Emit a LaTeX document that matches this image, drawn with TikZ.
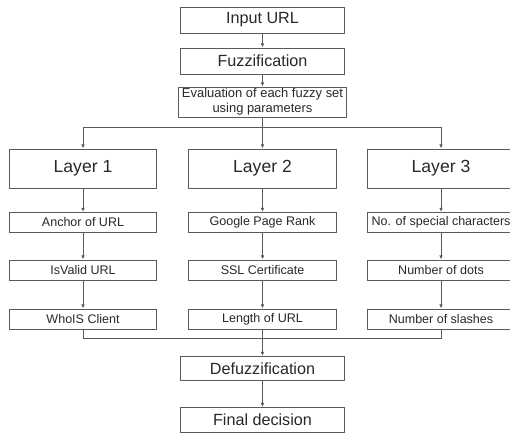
\documentclass[tikz,border=0pt]{standalone}
\usepackage{fontspec}
\setmainfont{Liberation Sans}
\usetikzlibrary{arrows.meta}
\definecolor{boxline}{RGB}{90,90,90}
\definecolor{boxtext}{RGB}{40,40,40}
\tikzset{
  mainbox/.style={draw=boxline,line width=0.7pt,inner sep=0pt,align=center,
    text=boxtext,minimum width=4.075cm,minimum height=0.65cm,font=\fontsize{11.5}{13}\selectfont},
  layerbox/.style={mainbox,minimum width=3.675cm,minimum height=0.975cm,font=\fontsize{12.5}{14}\selectfont},
  itembox/.style={mainbox,minimum width=3.675cm,minimum height=0.5cm,font=\fontsize{8.9}{10}\selectfont},
  link/.style={draw=boxline,line width=0.6pt},
  arr/.style={link,-{Latex[length=3pt,width=2.6pt]}}
}
\begin{document}
\begin{tikzpicture}[x=0.025cm,y=-0.025cm]
\clip (0,0) rectangle (510,435);
%
% top chain
\node[mainbox] at (262.5,20) (input) {Input URL};
\node[mainbox] at (262.5,61) (fuzz) {Fuzzification};
\node[mainbox,minimum width=4.175cm,minimum height=0.75cm,font=\fontsize{9.2}{10.6}\selectfont]
  at (262.5,102) (eval) {Evaluation of each fuzzy set\\using parameters};
\draw[arr] (input) -- (fuzz);
\draw[arr] (fuzz) -- (eval);
\coordinate (split) at (262.5,127);
%
% Layer 1
\node[layerbox] at (83,168.5) (layer1) {Layer 1};
\node[itembox] at (83,222.5) (anchor) {Anchor of URL};
\node[itembox] at (83,270) (isvalid) {IsValid URL};
\node[itembox] at (83,319) (whois) {WhoIS Client};
% Layer 2
\node[layerbox] at (262.5,168.5) (layer2) {Layer 2};
\node[itembox] at (262.5,222.5) (pagerank) {Google Page Rank};
\node[itembox] at (262.5,270) (ssl) {SSL Certificate};
\node[itembox] at (262.5,319) (urllen) {Length of URL};
% Layer 3
\node[layerbox] at (441,168.5) (layer3) {Layer 3};
\node[itembox] at (441,222.5) (special) {No. of special characters};
\node[itembox] at (441,270) (dots) {Number of dots};
\node[itembox] at (441,319) (slashes) {Number of slashes};
%
% branches
\draw[link] (eval) -- (split);
\draw[arr] (split) -| (layer1.north);
\draw[arr] (split) -- (layer2.north);
\draw[arr] (split) -| (layer3.north);
\draw[arr] (layer1) -- (anchor);
\draw[arr] (anchor) -- (isvalid);
\draw[arr] (isvalid) -- (whois);
\draw[arr] (layer2) -- (pagerank);
\draw[arr] (pagerank) -- (ssl);
\draw[arr] (ssl) -- (urllen);
\draw[arr] (layer3) -- (special);
\draw[arr] (special) -- (dots);
\draw[arr] (dots) -- (slashes);
%
% bottom chain
\coordinate (merge) at (262.5,338);
\node[mainbox,minimum height=0.6cm] at (262.5,368.5) (defuzz) {Defuzzification};
\node[mainbox,minimum height=0.625cm] at (262.5,420) (final) {Final decision};
\draw[link] (whois.south) |- (merge);
\draw[link] (slashes.south) |- (merge);
\draw[arr] (urllen) -- (defuzz);
\draw[arr] (defuzz) -- (final);
\end{tikzpicture}
\end{document}
